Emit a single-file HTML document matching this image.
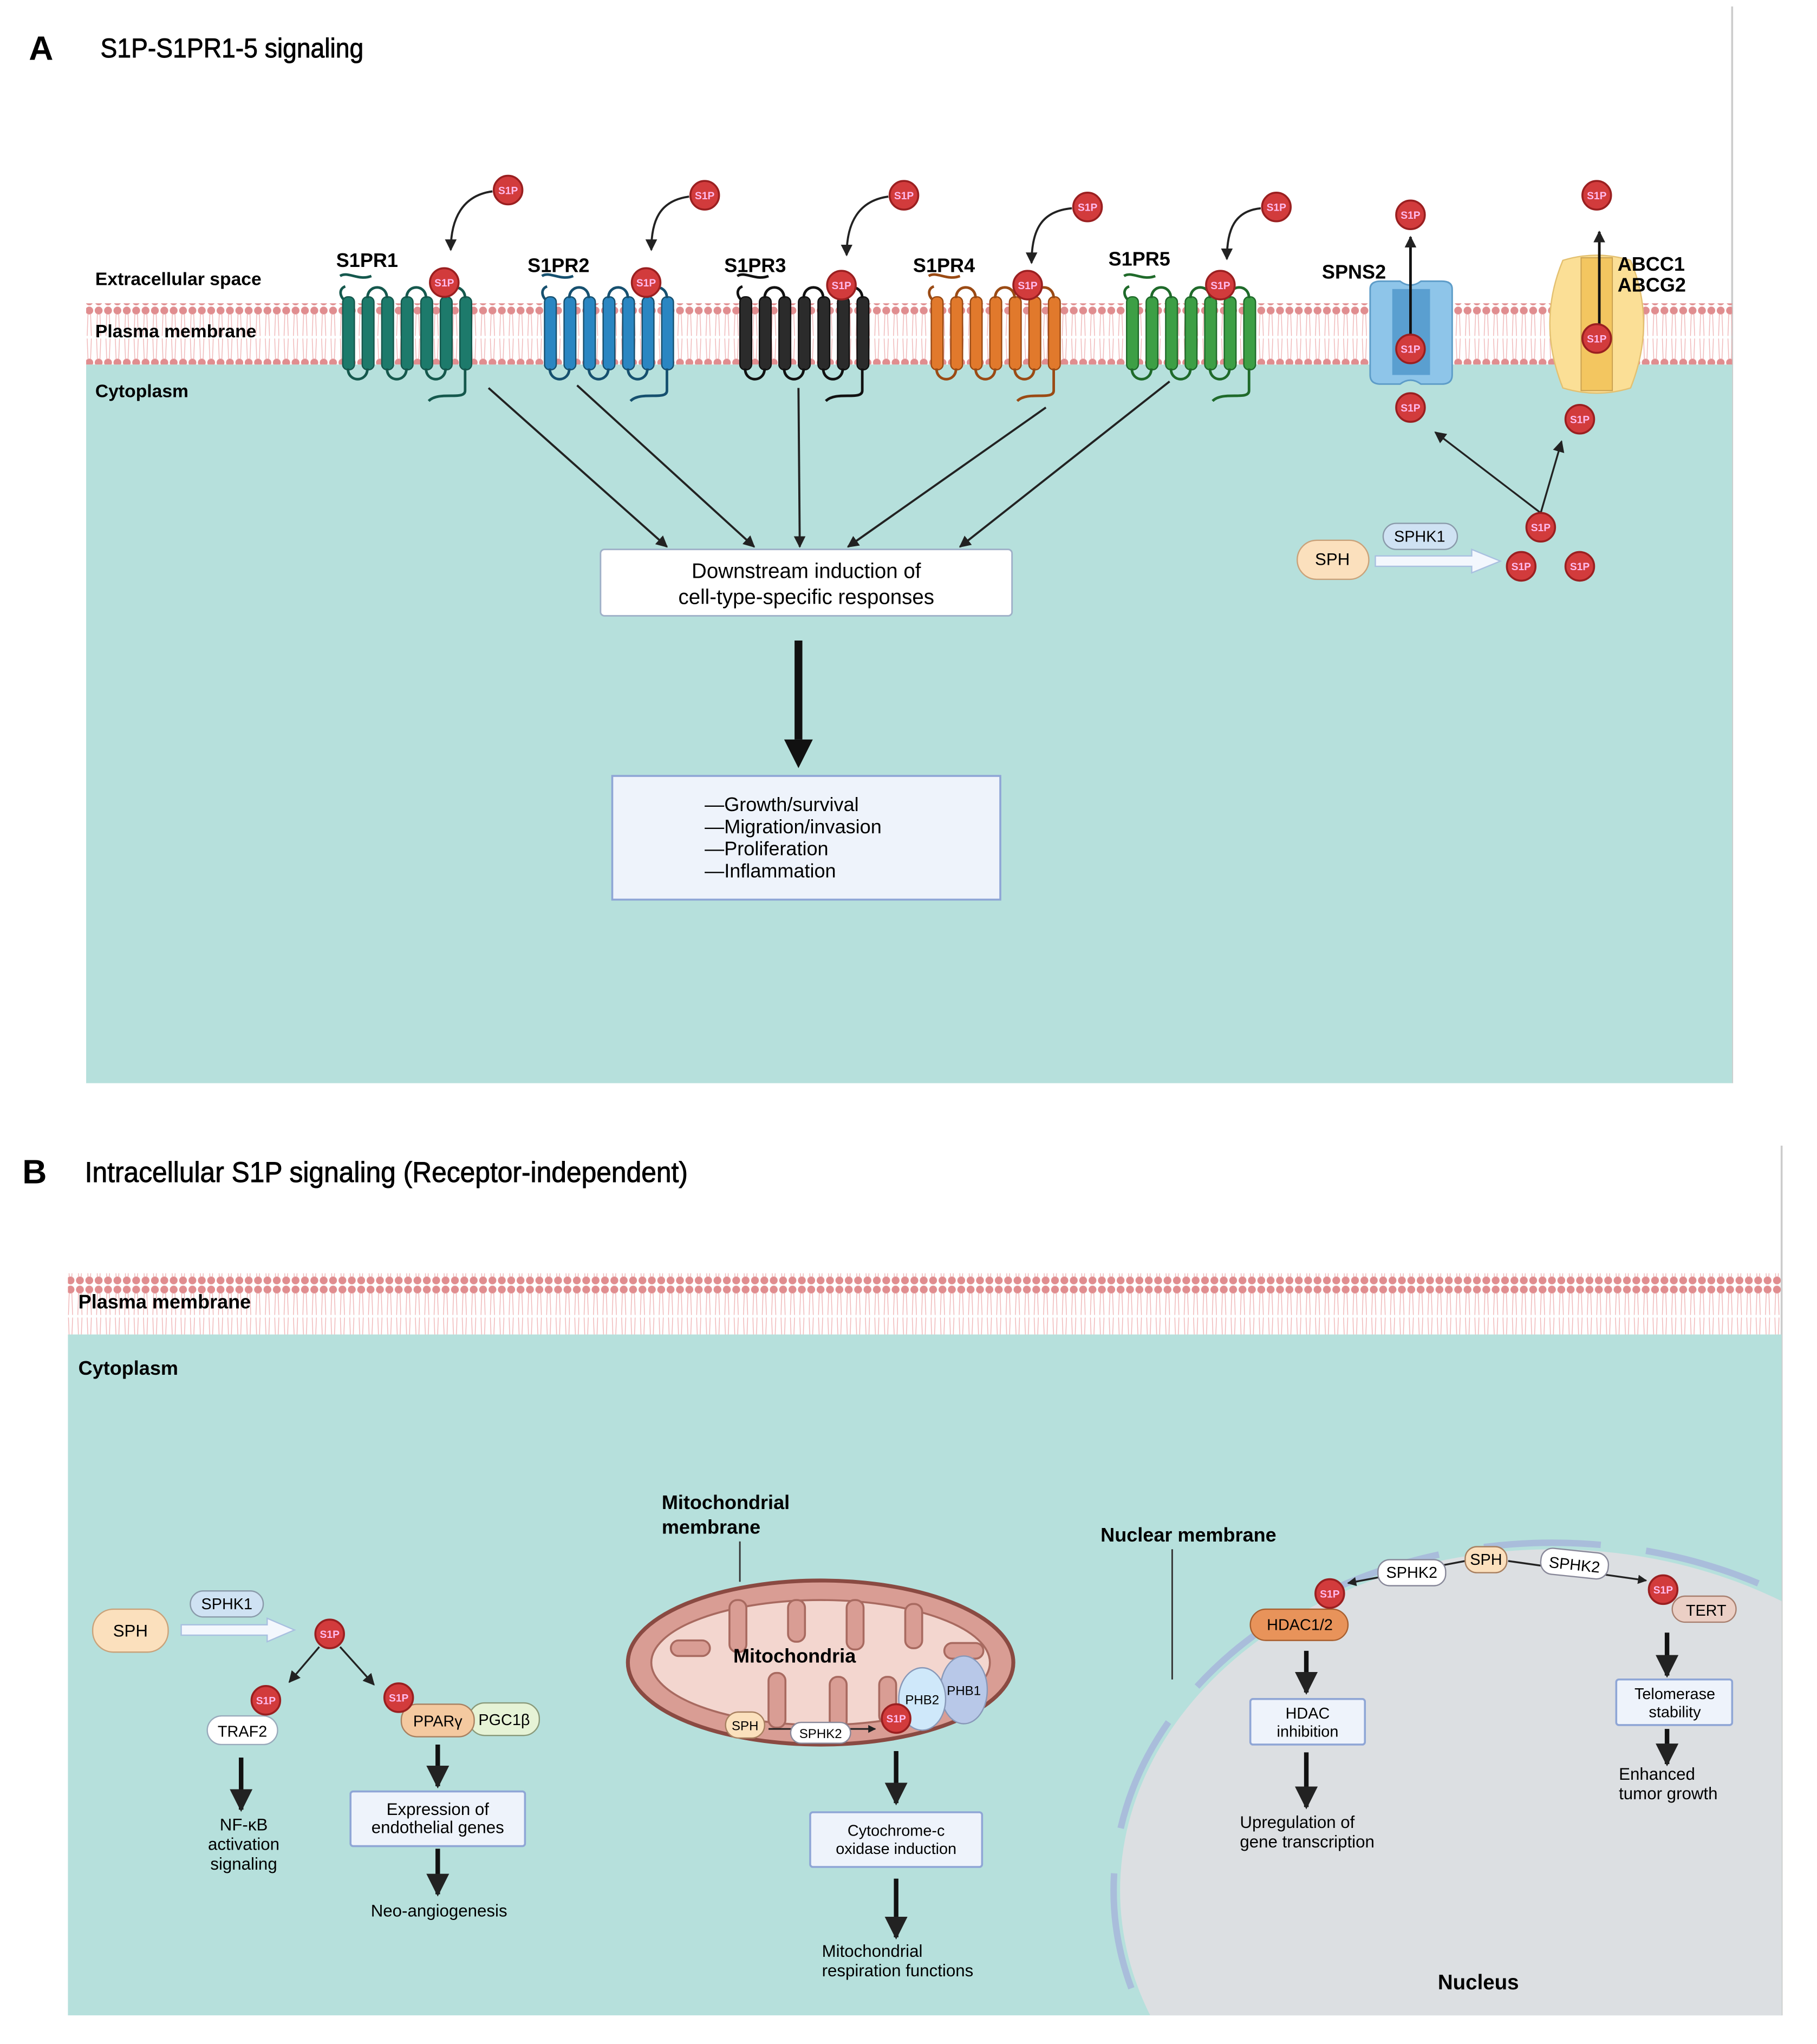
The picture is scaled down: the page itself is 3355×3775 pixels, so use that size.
<!DOCTYPE html>
<html><head><meta charset="utf-8">
<style>
html,body{margin:0;padding:0;background:#fff;width:3355px;height:3775px;overflow:hidden;}
svg{display:block;}
text{font-family:"Liberation Sans",sans-serif;}
.b{font-weight:bold;}
</style></head>
<body>
<svg width="3355" height="3775" viewBox="0 0 1395 1570" xmlns="http://www.w3.org/2000/svg">
<defs>
<pattern id="mem" x="0" y="0" width="7.2" height="47" patternUnits="userSpaceOnUse">
<circle cx="3.6" cy="3.5" r="3" fill="#e08d8f"/>
<circle cx="3.6" cy="43.5" r="3" fill="#e08d8f"/>
<path d="M2.6 6 L2 23 M4.6 6 L5.2 23 M2 25 L2.6 41 M5.2 25 L4.6 41" stroke="#efb5b6" stroke-width="0.6" fill="none"/>
</pattern>
<marker id="ah" viewBox="0 0 10 10" refX="9" refY="5" markerWidth="9" markerHeight="9" markerUnits="userSpaceOnUse" orient="auto"><path d="M0 0 L10 5 L0 10 Z" fill="#222"/></marker>
<marker id="ahb" viewBox="0 0 10 10" refX="9" refY="5" markerWidth="5" markerHeight="5" orient="auto"><path d="M0 0 L10 5 L0 10 Z" fill="#222"/></marker>
<g id="rec">
<path d="M-2 -30 C-8 -28,-6 -20,0 -18" fill="none" stroke-width="2"/>
<path d="M-6 -40 C0 -44,8 -36,18 -40" fill="none" stroke-width="2" transform="translate(0,2)"/>
<rect x="-4" y="-22" width="9" height="56" rx="4"/>
<rect x="11" y="-22" width="9" height="56" rx="4"/>
<rect x="26" y="-22" width="9" height="56" rx="4"/>
<rect x="41" y="-22" width="9" height="56" rx="4"/>
<rect x="56" y="-22" width="9" height="56" rx="4"/>
<rect x="71" y="-22" width="9" height="56" rx="4"/>
<rect x="86" y="-22" width="9" height="56" rx="4"/>
<path d="M15 -21 C15 -32,30 -32,30 -21 M45 -21 C45 -32,60 -32,60 -21 M75 -21 C75 -32,90 -32,90 -21 M0 33 C0 44,15 44,15 33 M30 33 C30 44,45 44,45 33 M60 33 C60 44,75 44,75 33 M90 33 L90 50 C90 58,70 50,62 58" fill="none" stroke-width="2"/>
</g>
<g id="s1p"><circle r="11" fill="#d23b3c" stroke="#9a1f20" stroke-width="1.5"/><text y="3" text-anchor="middle" font-size="8" fill="#fbe" class="b">S1P</text></g>
<clipPath id="pb"><rect x="52" y="1025" width="1316" height="523"/></clipPath>
</defs>

<!-- Panel A -->
<text x="22" y="46" font-size="26" class="b">A</text>
<text x="77" y="44" font-size="21" textLength="202" lengthAdjust="spacingAndGlyphs" stroke="#000" stroke-width="0.4">S1P-S1PR1-5 signaling</text>
<line x1="1330" y1="5" x2="1330" y2="832" stroke="#ccc" stroke-width="1.5"/>
<rect x="66" y="280" width="1264" height="552" fill="#b6e0dc"/>
<rect x="66" y="233" width="1264" height="47" fill="url(#mem)"/>
<text x="73" y="219" font-size="14" class="b">Extracellular space</text>
<text x="73" y="259" font-size="14" class="b">Plasma membrane</text>
<text x="73" y="305" font-size="14" class="b">Cytoplasm</text>

<use href="#rec" x="267" y="250" fill="#1d7a6b" stroke="#15584d"/>
<use href="#rec" x="422" y="250" fill="#2a86c2" stroke="#16506f"/>
<use href="#rec" x="572" y="250" fill="#2b2b2b" stroke="#111"/>
<use href="#rec" x="719" y="250" fill="#e1792c" stroke="#9a4a14"/>
<use href="#rec" x="869" y="250" fill="#3d9f45" stroke="#1f6a2a"/>

<text x="258" y="205" font-size="15" class="b">S1PR1</text>
<text x="405" y="209" font-size="15" class="b">S1PR2</text>
<text x="556" y="209" font-size="15" class="b">S1PR3</text>
<text x="701" y="209" font-size="15" class="b">S1PR4</text>
<text x="851" y="204" font-size="15" class="b">S1PR5</text>

<g fill="none" stroke="#222" stroke-width="1.6" marker-end="url(#ah)">
<path d="M378 147 C355 150,346 168,346 192"/>
<path d="M529 151 C506 154,500 170,500 192"/>
<path d="M682 151 C660 154,650 170,650 196"/>
<path d="M823 160 C800 162,792 176,792 202"/>
<path d="M968 160 C948 162,942 176,942 199"/>
</g>
<use href="#s1p" x="390" y="146"/><use href="#s1p" x="541" y="150"/><use href="#s1p" x="694" y="150"/><use href="#s1p" x="835" y="159"/><use href="#s1p" x="980" y="159"/>
<use href="#s1p" x="341" y="217"/><use href="#s1p" x="496" y="217"/><use href="#s1p" x="646" y="219"/><use href="#s1p" x="789" y="219"/><use href="#s1p" x="937" y="219"/>

<!-- SPNS2 -->
<path d="M1052 222 Q1052 216,1060 216 L1075 216 Q1083 222,1091 216 L1107 216 Q1115 216,1115 222 L1115 288 Q1115 295,1107 295 L1091 295 Q1083 289,1075 295 L1060 295 Q1052 295,1052 288 Z" fill="#8ec5e9" stroke="#5d9cc8" stroke-width="1.2"/>
<rect x="1069" y="222" width="29" height="66" fill="#5a9fd0"/>
<line x1="1083" y1="258" x2="1083" y2="182" stroke="#111" stroke-width="2" marker-end="url(#ah)"/>
<use href="#s1p" x="1083" y="165"/><use href="#s1p" x="1083" y="268"/><use href="#s1p" x="1083" y="313"/>
<text x="1015" y="214" font-size="15" class="b">SPNS2</text>
<!-- ABC -->
<path d="M1200 200 Q1226 192,1252 200 Q1272 248,1252 298 Q1226 306,1200 298 Q1180 248,1200 200 Z" fill="#fbdf96" stroke="#e3c070" stroke-width="1"/>
<rect x="1214" y="198" width="24" height="102" fill="#f3c660" stroke="#c9a050" stroke-width="0.8"/>
<line x1="1228" y1="250" x2="1228" y2="178" stroke="#111" stroke-width="2" marker-end="url(#ah)"/>
<use href="#s1p" x="1226" y="150"/><use href="#s1p" x="1226" y="260"/><use href="#s1p" x="1213" y="322"/>
<text x="1242" y="208" font-size="15" class="b">ABCC1</text>
<text x="1242" y="224" font-size="15" class="b">ABCG2</text>
<!-- SPH SPHK1 -->
<rect x="996" y="415" width="55" height="30" rx="15" fill="#fbe0bd" stroke="#c9a27a"/>
<text x="1023" y="434" font-size="13" text-anchor="middle">SPH</text>
<rect x="1062" y="402" width="57" height="20" rx="10" fill="#cfe2f3" stroke="#8a9aaa"/>
<text x="1090" y="416" font-size="12" text-anchor="middle">SPHK1</text>
<path d="M1056 427 L1130 427 L1130 422 L1152 431 L1130 440 L1130 435 L1056 435 Z" fill="#f3f7fd" stroke="#a9c0e0"/>
<line x1="1183" y1="394" x2="1102" y2="332" stroke="#222" stroke-width="1.4" marker-end="url(#ah)"/>
<line x1="1183" y1="394" x2="1199" y2="339" stroke="#222" stroke-width="1.4" marker-end="url(#ah)"/>
<use href="#s1p" x="1183" y="405"/><use href="#s1p" x="1168" y="435"/><use href="#s1p" x="1213" y="435"/>

<g stroke="#222" stroke-width="1.6" marker-end="url(#ah)">
<line x1="375" y1="298" x2="512" y2="420"/>
<line x1="443" y1="296" x2="579" y2="420"/>
<line x1="613" y1="298" x2="614" y2="420"/>
<line x1="803" y1="313" x2="651" y2="420"/>
<line x1="898" y1="293" x2="737" y2="420"/>
</g>
<rect x="461" y="422" width="316" height="51" rx="3" fill="#fff" stroke="#9fb0c8" stroke-width="1.2"/>
<text x="619" y="444" font-size="16" text-anchor="middle">Downstream induction of</text>
<text x="619" y="464" font-size="16" text-anchor="middle">cell-type-specific responses</text>
<line x1="613" y1="492" x2="613" y2="568" stroke="#111" stroke-width="6"/>
<path d="M602 568 L624 568 L613 590 Z" fill="#111"/>
<rect x="470" y="596" width="298" height="95" fill="#eef3fb" stroke="#8fa6d6" stroke-width="1.5"/>
<text x="541" y="623" font-size="15">—Growth/survival</text>
<text x="541" y="640" font-size="15">—Migration/invasion</text>
<text x="541" y="657" font-size="15">—Proliferation</text>
<text x="541" y="674" font-size="15">—Inflammation</text>

<!-- Panel B -->
<text x="17" y="909" font-size="26" class="b">B</text>
<text x="65" y="908" font-size="22" textLength="463" lengthAdjust="spacingAndGlyphs" stroke="#000" stroke-width="0.4">Intracellular S1P signaling (Receptor-independent)</text>
<line x1="1368" y1="880" x2="1368" y2="1548" stroke="#ccc" stroke-width="1.5"/>
<rect x="52" y="1025" width="1316" height="523" fill="#b6e0dc"/>
<rect x="52" y="978" width="1316" height="47" fill="url(#mem)"/>
<text x="60" y="1005" font-size="15" class="b">Plasma membrane</text>
<text x="60" y="1056" font-size="15" class="b">Cytoplasm</text>

<g clip-path="url(#pb)">
<ellipse cx="1192" cy="1452" rx="332" ry="262" fill="#dcdfe2"/>
<ellipse cx="1192" cy="1452" rx="337" ry="267" fill="none" stroke="#a9bddb" stroke-width="5" stroke-dasharray="90 35"/>
</g>
<text x="845" y="1184" font-size="15" class="b">Nuclear membrane</text>
<line x1="900" y1="1190" x2="900" y2="1290" stroke="#333" stroke-width="1.2"/>
<text x="1104" y="1528" font-size="16" class="b">Nucleus</text>

<!-- left -->
<rect x="71" y="1236" width="58" height="33" rx="16" fill="#fbe0bd" stroke="#c9a27a"/>
<text x="100" y="1257" font-size="13" text-anchor="middle">SPH</text>
<rect x="146" y="1222" width="56" height="20" rx="10" fill="#cfe2f3" stroke="#8a9aaa"/>
<text x="174" y="1236" font-size="12" text-anchor="middle">SPHK1</text>
<path d="M139 1248 L205 1248 L205 1243 L226 1252 L205 1261 L205 1256 L139 1256 Z" fill="#f3f7fd" stroke="#a9c0e0"/>
<use href="#s1p" x="253" y="1255"/>
<line x1="245" y1="1265" x2="222" y2="1292" stroke="#222" stroke-width="1.4" marker-end="url(#ah)"/>
<line x1="261" y1="1265" x2="287" y2="1294" stroke="#222" stroke-width="1.4" marker-end="url(#ah)"/>
<rect x="159" y="1318" width="54" height="22" rx="11" fill="#fff" stroke="#9ab"/>
<text x="186" y="1334" font-size="12" text-anchor="middle">TRAF2</text>
<use href="#s1p" x="204" y="1306"/>
<line x1="185" y1="1350" x2="185" y2="1390" stroke="#111" stroke-width="3.5" marker-end="url(#ahb)"/>
<text x="187" y="1406" font-size="13" text-anchor="middle">NF-κB</text>
<text x="187" y="1421" font-size="13" text-anchor="middle">activation</text>
<text x="187" y="1436" font-size="13" text-anchor="middle">signaling</text>
<rect x="360" y="1308" width="54" height="25" rx="12" fill="#e6f3d6" stroke="#8a9a7a"/>
<text x="387" y="1325" font-size="12" text-anchor="middle">PGC1β</text>
<rect x="308" y="1309" width="56" height="25" rx="12" fill="#f4c9a0" stroke="#a88060"/>
<text x="336" y="1326" font-size="12" text-anchor="middle">PPARγ</text>
<use href="#s1p" x="306" y="1304"/>
<line x1="336" y1="1340" x2="336" y2="1372" stroke="#111" stroke-width="3.5" marker-end="url(#ahb)"/>
<rect x="269" y="1376" width="134" height="42" rx="2" fill="#eef3fb" stroke="#8fa6d6" stroke-width="1.5"/>
<text x="336" y="1394" font-size="13" text-anchor="middle">Expression  of</text>
<text x="336" y="1408" font-size="13" text-anchor="middle">endothelial genes</text>
<line x1="336" y1="1420" x2="336" y2="1455" stroke="#111" stroke-width="3.5" marker-end="url(#ahb)"/>
<text x="337" y="1472" font-size="13" text-anchor="middle">Neo-angiogenesis</text>

<!-- mitochondria -->
<text x="508" y="1159" font-size="15" class="b">Mitochondrial</text>
<text x="508" y="1178" font-size="15" class="b">membrane</text>
<line x1="568" y1="1184" x2="568" y2="1215" stroke="#333" stroke-width="1.2"/>
<ellipse cx="630" cy="1277" rx="148" ry="63" fill="#d99d94" stroke="#8a4a42" stroke-width="3"/>
<ellipse cx="630" cy="1277" rx="130" ry="48" fill="#f3d6cf" stroke="#a86a60" stroke-width="1.5"/>
<g fill="#d99d94" stroke="#a86a60" stroke-width="1.5">
<rect x="560" y="1229" width="13" height="40" rx="6"/>
<rect x="605" y="1229" width="13" height="32" rx="6"/>
<rect x="650" y="1229" width="13" height="38" rx="6"/>
<rect x="695" y="1232" width="13" height="34" rx="6"/>
<rect x="590" y="1285" width="13" height="42" rx="6"/>
<rect x="637" y="1288" width="13" height="40" rx="6"/>
<rect x="675" y="1288" width="13" height="36" rx="6"/>
<rect x="515" y="1260" width="30" height="12" rx="6"/>
<rect x="725" y="1262" width="30" height="12" rx="6"/>
</g>
<text x="610" y="1277" font-size="15" class="b" text-anchor="middle">Mitochondria</text>
<ellipse cx="740" cy="1298" rx="18" ry="26" fill="#b8c8e8" stroke="#8898b8"/>
<text x="740" y="1302" font-size="10" text-anchor="middle">PHB1</text>
<ellipse cx="708" cy="1305" rx="18" ry="24" fill="#cfe8fa" stroke="#8898b8"/>
<text x="708" y="1309" font-size="10" text-anchor="middle">PHB2</text>
<line x1="590" y1="1328" x2="672" y2="1328" stroke="#222" stroke-width="1.2" marker-end="url(#ahb)"/>
<rect x="557" y="1315" width="30" height="20" rx="10" fill="#fbe0bd" stroke="#a88060"/>
<text x="572" y="1329" font-size="10" text-anchor="middle">SPH</text>
<rect x="607" y="1323" width="46" height="16" rx="8" fill="#fff" stroke="#889"/>
<text x="630" y="1335" font-size="10" text-anchor="middle">SPHK2</text>
<use href="#s1p" x="688" y="1320"/>
<line x1="688" y1="1345" x2="688" y2="1385" stroke="#111" stroke-width="3.5" marker-end="url(#ahb)"/>
<rect x="622" y="1392" width="132" height="42" rx="2" fill="#eef3fb" stroke="#8fa6d6" stroke-width="1.5"/>
<text x="688" y="1410" font-size="12" text-anchor="middle">Cytochrome-c</text>
<text x="688" y="1424" font-size="12" text-anchor="middle">oxidase induction</text>
<line x1="688" y1="1443" x2="688" y2="1488" stroke="#111" stroke-width="3.5" marker-end="url(#ahb)"/>
<text x="631" y="1503" font-size="13">Mitochondrial</text>
<text x="631" y="1518" font-size="13">respiration functions</text>

<!-- nucleus signaling -->
<line x1="1125" y1="1199" x2="1035" y2="1216" stroke="#222" stroke-width="1.4" marker-end="url(#ahb)"/>
<line x1="1158" y1="1199" x2="1264" y2="1214" stroke="#222" stroke-width="1.4" marker-end="url(#ahb)"/>
<rect x="1125" y="1188" width="32" height="20" rx="9" fill="#fbe0bd" stroke="#a88060"/>
<text x="1141" y="1202" font-size="12" text-anchor="middle">SPH</text>
<rect x="1058" y="1198" width="52" height="20" rx="9" fill="#fff" stroke="#889"/>
<text x="1084" y="1212" font-size="12" text-anchor="middle">SPHK2</text>
<rect x="1183" y="1191" width="52" height="20" rx="9" fill="#fff" stroke="#889" transform="rotate(6 1209 1201)"/>
<text x="1209" y="1206" font-size="12" text-anchor="middle" transform="rotate(6 1209 1201)">SPHK2</text>
<rect x="960" y="1236" width="75" height="24" rx="12" fill="#e8935a" stroke="#a86030"/>
<text x="998" y="1252" font-size="12" text-anchor="middle">HDAC1/2</text>
<use href="#s1p" x="1021" y="1224"/>
<rect x="1284" y="1226" width="49" height="20" rx="10" fill="#ebcfc5" stroke="#a88070"/>
<text x="1310" y="1241" font-size="12" text-anchor="middle">TERT</text>
<use href="#s1p" x="1277" y="1221"/>
<line x1="1003" y1="1268" x2="1003" y2="1300" stroke="#111" stroke-width="3.5" marker-end="url(#ahb)"/>
<rect x="960" y="1305" width="88" height="35" rx="2" fill="#eef3fb" stroke="#8fa6d6" stroke-width="1.5"/>
<text x="1004" y="1320" font-size="12" text-anchor="middle">HDAC</text>
<text x="1004" y="1334" font-size="12" text-anchor="middle">inhibition</text>
<line x1="1003" y1="1346" x2="1003" y2="1388" stroke="#111" stroke-width="3.5" marker-end="url(#ahb)"/>
<text x="952" y="1404" font-size="13">Upregulation of</text>
<text x="952" y="1419" font-size="13">gene transcription</text>
<line x1="1280" y1="1254" x2="1280" y2="1287" stroke="#111" stroke-width="3.5" marker-end="url(#ahb)"/>
<rect x="1241" y="1290" width="89" height="35" rx="2" fill="#eef3fb" stroke="#8fa6d6" stroke-width="1.5"/>
<text x="1286" y="1305" font-size="12" text-anchor="middle">Telomerase</text>
<text x="1286" y="1319" font-size="12" text-anchor="middle">stability</text>
<line x1="1280" y1="1328" x2="1280" y2="1355" stroke="#111" stroke-width="3.5" marker-end="url(#ahb)"/>
<text x="1243" y="1367" font-size="13">Enhanced</text>
<text x="1243" y="1382" font-size="13">tumor growth</text>
</svg>
</body></html>
